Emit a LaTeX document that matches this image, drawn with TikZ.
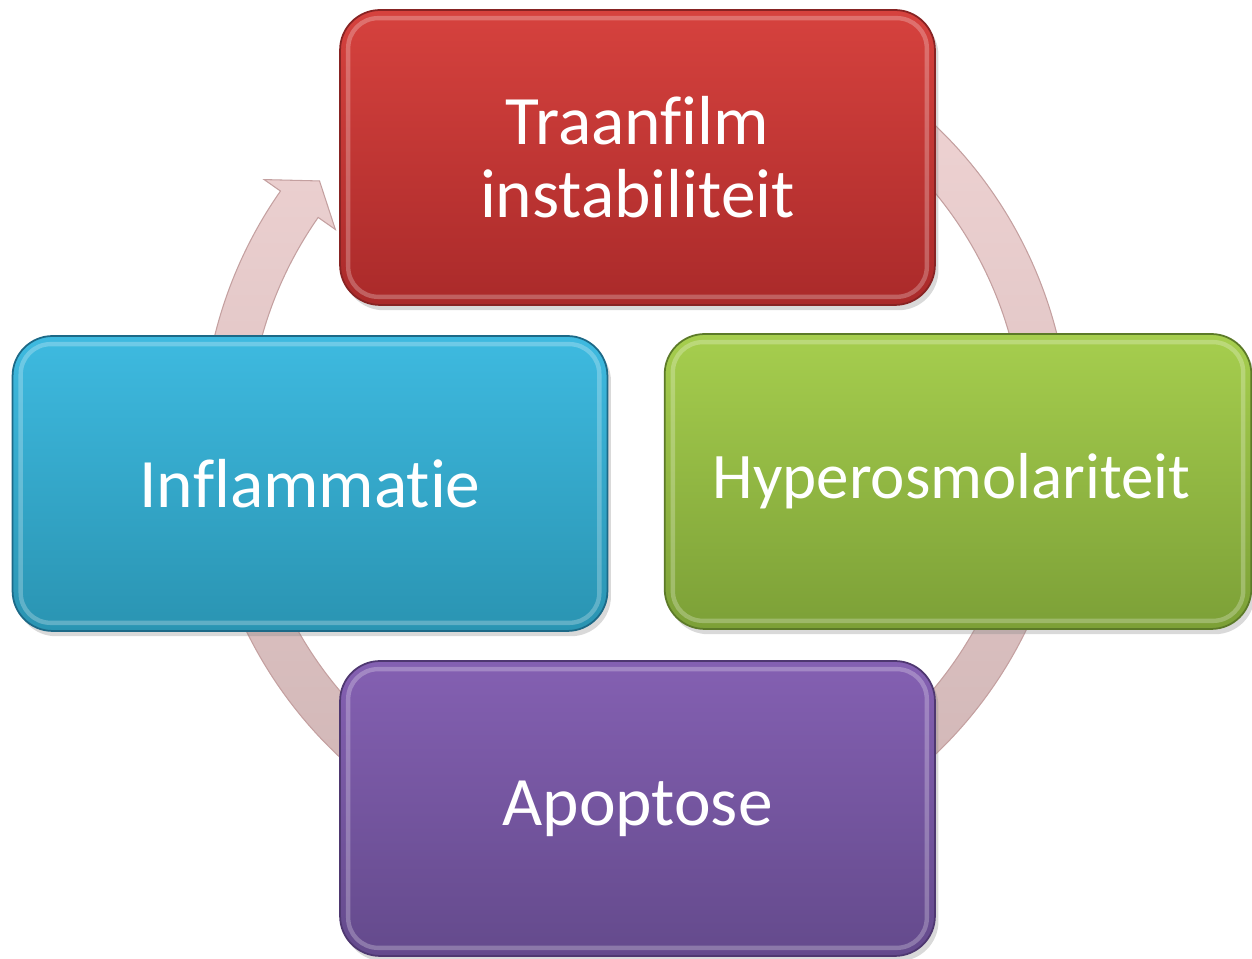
\documentclass[tikz,border=0pt]{standalone}
\usepackage{fontspec}
\setmainfont{Carlito}[Ligatures=NoCommon]
\usetikzlibrary{shadows}
\definecolor{redtop}{RGB}{214,66,62}
\definecolor{redbot}{RGB}{170,42,42}
\definecolor{redrim}{RGB}{135,35,35}
\definecolor{bluetop}{RGB}{62,186,224}
\definecolor{bluebot}{RGB}{42,148,178}
\definecolor{bluerim}{RGB}{28,105,135}
\definecolor{greentop}{RGB}{166,206,78}
\definecolor{greenbot}{RGB}{124,160,55}
\definecolor{greenrim}{RGB}{92,122,40}
\definecolor{purpletop}{RGB}{132,96,178}
\definecolor{purplebot}{RGB}{100,74,140}
\definecolor{purplerim}{RGB}{78,55,112}
\definecolor{pinktop}{RGB}{240,212,212}
\definecolor{pinkbot}{RGB}{204,178,178}
\definecolor{pinkrim}{RGB}{196,160,160}

\begin{document}
\begin{tikzpicture}[x=0.02cm, y=0.02cm,
  cyclebox/.style={rounded corners=0.8cm, minimum width=11.9cm, minimum height=5.9cm,
    text width=11.5cm, align=center, text=white, line width=1pt,
    font=\fontsize{39.5}{41.5}\selectfont,
    drop shadow={shadow xshift=2pt, shadow yshift=-3pt, opacity=0.3}},
  bevel/.style={rounded corners=0.6cm, draw=white, draw opacity=0.25, line width=2.5pt},
  cyclearrow/.style={top color=pinktop, bottom color=pinkbot, draw=pinkrim, line width=0.6pt}]
\useasboundingbox (0,0) rectangle (1252,959);

\begin{scope}[shift={(636,519)}]
\path[cyclearrow] (65:434) arc[start angle=65, end angle=-215, radius=434]
  -- (-215:454) -- (-219.3:409) -- (-215:367) -- (-215:388)
  arc[start angle=-215, end angle=65, radius=388] -- cycle;
\end{scope}

\node[cyclebox, top color=redtop, bottom color=redbot, draw=redrim] (traanfilm) at (637.5,801.5) {Traanfilm\\instabiliteit};
\node[cyclebox, minimum width=11.68cm, font=\fontsize{37}{41.5}\selectfont, top color=greentop, bottom color=greenbot, draw=greenrim] (hyper) at (958,477.5) {\hspace*{-0.25cm}Hyperosmolariteit};
\node[cyclebox, top color=purpletop, bottom color=purplebot, draw=purplerim] (apoptose) at (637.5,150.5) {Apoptose};
\node[cyclebox, top color=bluetop, bottom color=bluebot, draw=bluerim] (inflam) at (310,475.5) {Inflammatie};

\foreach \n in {traanfilm,hyper,apoptose,inflam}
  \draw[bevel] ([shift={(9,9)}]\n.south west) rectangle ([shift={(-9,-9)}]\n.north east);
\end{tikzpicture}
\end{document}
